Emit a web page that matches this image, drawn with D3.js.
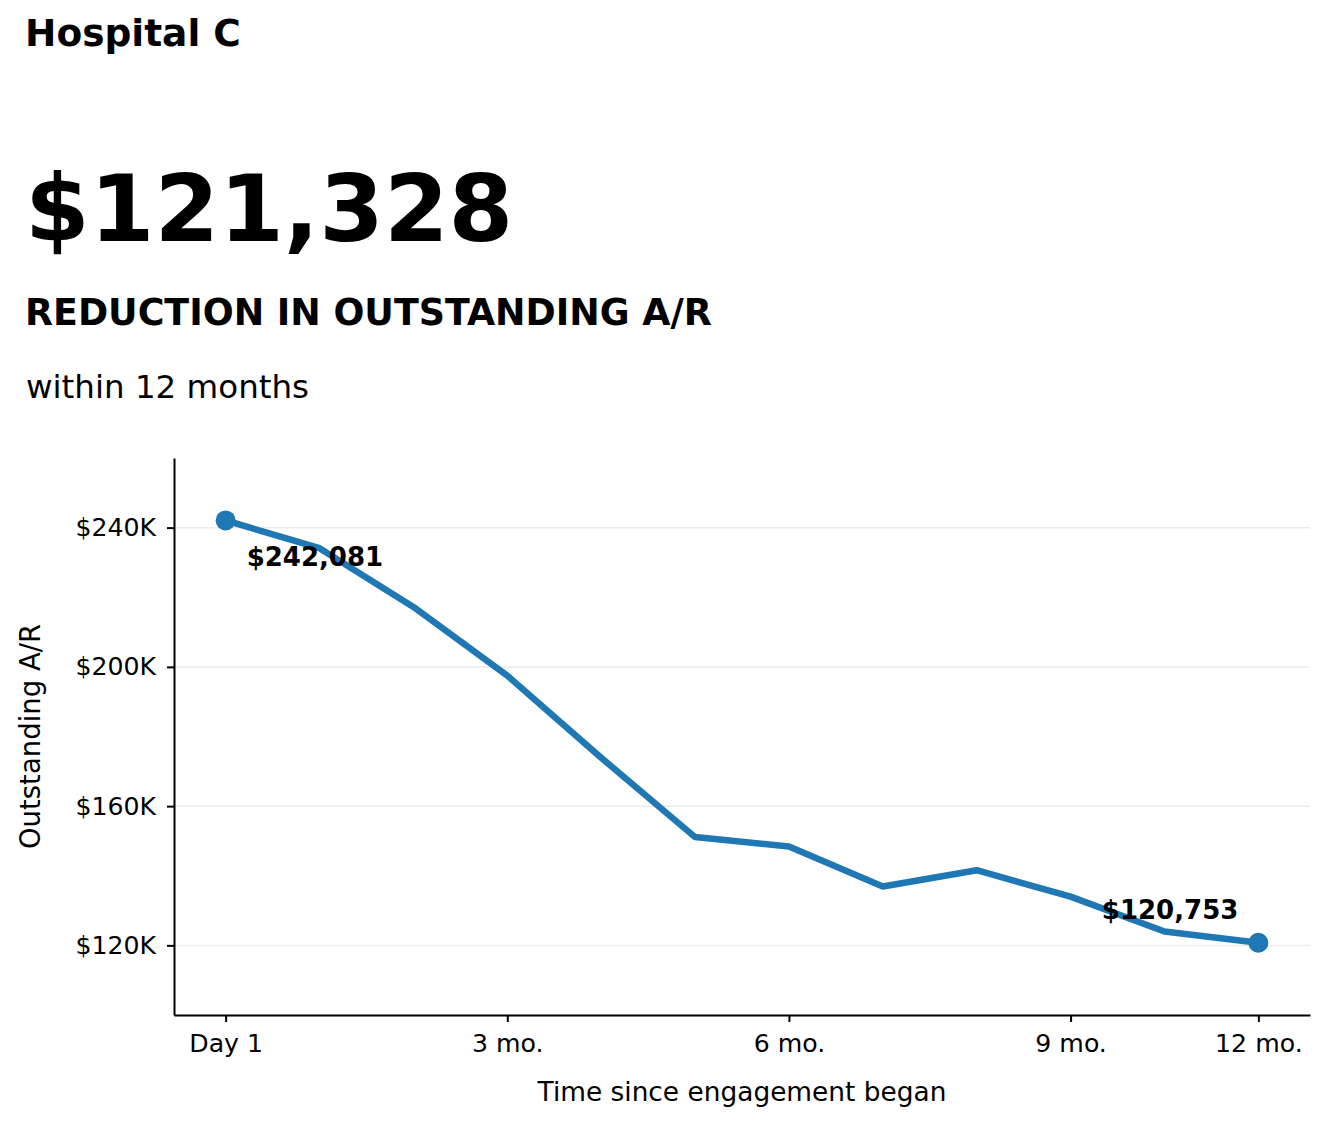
<!DOCTYPE html>
<html>
<head>
<meta charset="utf-8">
<script src="https://cdn.jsdelivr.net/npm/d3@7"></script>
<style>
  html, body { margin: 0; padding: 0; background: #ffffff; }
  svg { display: block; font-family: "DejaVu Sans", sans-serif; }
</style>
</head>
<body>
<svg id="chart" width="1328" height="1126"></svg>
<script>
// ---- Data ----
const months = [0, 1, 2, 3, 4, 5, 6, 7, 8, 9, 10, 11];
const outstandingAR = [242081, 234100, 217200, 197500, 173900, 151100, 148400, 136900, 141600, 134000, 124000, 120753];
const xTickValues = [0, 3, 6, 9, 11];
const xTickLabels = ["Day 1", "3 mo.", "6 mo.", "9 mo.", "12 mo."];
const yTickValues = [120000, 160000, 200000, 240000];
const yTickLabels = ["$120K", "$160K", "$200K", "$240K"];
const titleText = "Hospital C";
const headlineText = "$121,328";
const subheadText = "REDUCTION IN OUTSTANDING A/R";
const noteText = "within 12 months";
const xAxisTitle = "Time since engagement began";
const yAxisTitle = "Outstanding A/R";

// ---- Layout ----
const svg = d3.select("#chart");
const plot = { left: 174, right: 1310, top: 458, bottom: 1015 };
const lineColor = "#1f77b4";

const x = d3.scaleLinear().domain([-0.55, 11.55]).range([plot.left, plot.right]);
const y = d3.scaleLinear().domain([100000, 260000]).range([plot.bottom, plot.top]);

// ---- Header texts ----
svg.append("text").attr("x", 25).attr("y", 46)
  .attr("font-size", 37.5).attr("font-weight", "bold").attr("fill", "#000").text(titleText);
svg.append("text").attr("x", 25).attr("y", 241)
  .attr("font-size", 93).attr("font-weight", "bold").attr("fill", "#000").text(headlineText);
svg.append("text").attr("x", 25).attr("y", 325)
  .attr("font-size", 36.4).attr("font-weight", "bold").attr("fill", "#000").text(subheadText);
svg.append("text").attr("x", 26).attr("y", 398)
  .attr("font-size", 32.5).attr("fill", "#000").text(noteText);

// ---- Grid ----
svg.append("g").selectAll("line").data(yTickValues).join("line")
  .attr("x1", plot.left).attr("x2", plot.right)
  .attr("y1", d => y(d)).attr("y2", d => y(d))
  .attr("stroke", "#ebebeb").attr("stroke-width", 1.5);

// ---- Axes ----
const xAxis = d3.axisBottom(x)
  .tickValues(xTickValues)
  .tickFormat((d, i) => xTickLabels[i])
  .tickSize(7).tickSizeOuter(0).tickPadding(12);
const gx = svg.append("g").attr("transform", `translate(0,${plot.bottom})`).call(xAxis);

const yAxis = d3.axisLeft(y)
  .tickValues(yTickValues)
  .tickFormat((d, i) => yTickLabels[i])
  .tickSize(7).tickSizeOuter(0).tickPadding(11);
const gy = svg.append("g").attr("transform", `translate(${plot.left},0)`).call(yAxis);

[gx, gy].forEach(g => {
  g.attr("font-family", "DejaVu Sans, sans-serif").attr("font-size", 25.2);
  g.select(".domain").attr("stroke", "#000").attr("stroke-width", 2);
  g.selectAll(".tick line").attr("stroke", "#000").attr("stroke-width", 2);
  g.selectAll(".tick text").attr("fill", "#000");
});

// ---- Axis titles ----
svg.append("text").attr("x", (plot.left + plot.right) / 2).attr("y", 1101)
  .attr("text-anchor", "middle").attr("font-size", 26.4).attr("fill", "#000").text(xAxisTitle);
svg.append("text")
  .attr("transform", `translate(40,${(plot.top + plot.bottom) / 2}) rotate(-90)`)
  .attr("text-anchor", "middle").attr("font-size", 27.5).attr("fill", "#000").text(yAxisTitle);

// ---- Line ----
const pts = months.map((m, i) => ({ m, v: outstandingAR[i] }));
const line = d3.line().x(d => x(d.m)).y(d => y(d.v));
svg.append("path").datum(pts).attr("d", line)
  .attr("fill", "none").attr("stroke", lineColor).attr("stroke-width", 6.5)
  .attr("stroke-linejoin", "round").attr("stroke-linecap", "butt");

// ---- End markers ----
const ends = [pts[0], pts[pts.length - 1]];
svg.append("g").selectAll("circle").data(ends).join("circle")
  .attr("cx", d => x(d.m)).attr("cy", d => y(d.v)).attr("r", 10)
  .attr("fill", lineColor);

// ---- Annotations ----
const fmt = d3.format("$,");
svg.append("text")
  .attr("x", x(pts[0].m) + 21).attr("y", y(pts[0].v) + 46)
  .attr("font-size", 26).attr("font-weight", "bold").attr("fill", "#000")
  .text(fmt(pts[0].v));
const last = pts[pts.length - 1];
svg.append("text")
  .attr("x", x(last.m) - 20).attr("y", y(last.v) - 24)
  .attr("text-anchor", "end")
  .attr("font-size", 26).attr("font-weight", "bold").attr("fill", "#000")
  .text(fmt(last.v));
</script>
</body>
</html>
